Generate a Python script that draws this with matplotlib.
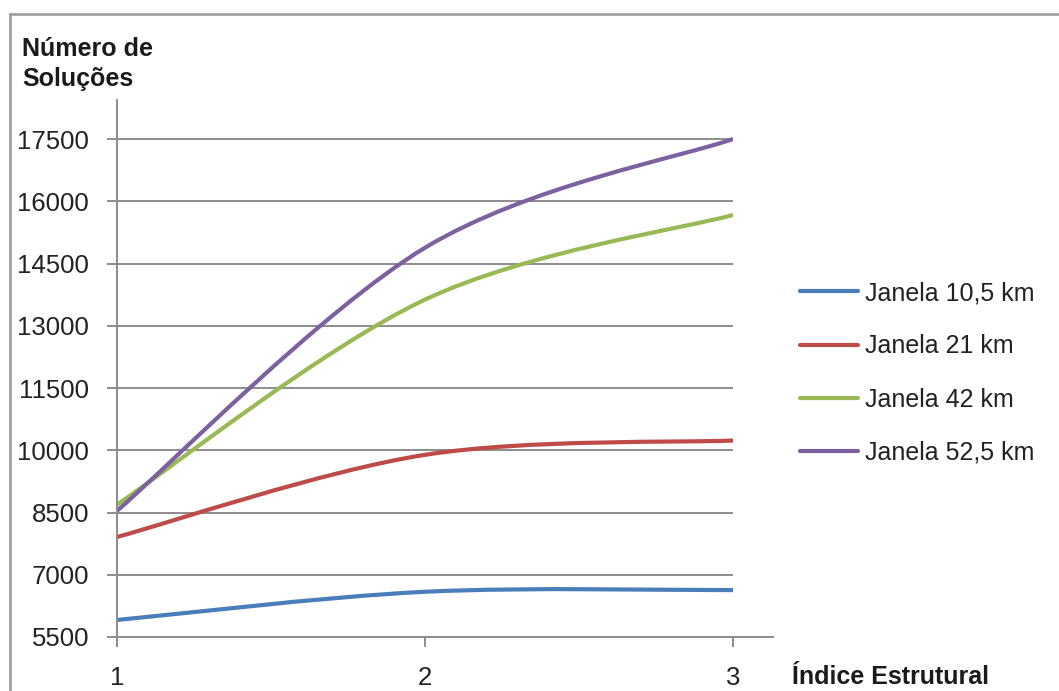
import numpy as np
import matplotlib
matplotlib.use('Agg')
import matplotlib.pyplot as plt
from matplotlib.path import Path
from matplotlib.patches import PathPatch
from matplotlib.lines import Line2D

plt.rcParams['font.family'] = ['Liberation Sans', 'DejaVu Sans']

# Data
indices = [1, 2, 3]
series_names = ['Janela 10,5 km', 'Janela 21 km', 'Janela 42 km', 'Janela 52,5 km']
janela_10_5 = [5910, 6590, 6630]
janela_21 = [7910, 9890, 10235]
janela_42 = [8690, 13630, 15670]
janela_52_5 = [8540, 14880, 17500]
y_ticks = [5500, 7000, 8500, 10000, 11500, 13000, 14500, 16000, 17500]

colors = ['#4A7EBB', '#BE4B48', '#98B954', '#7D60A0']
grid_color = '#8C8C8C'


def smooth_path(x, y):
    # Excel style smoothed line: cubic Bezier segments through the points
    pts = np.column_stack([x, y]).astype(float)
    n = len(pts)
    verts = [pts[0]]
    codes = [Path.MOVETO]
    for i in range(n - 1):
        p0 = pts[max(i - 1, 0)]
        p1 = pts[i]
        p2 = pts[i + 1]
        p3 = pts[min(i + 2, n - 1)]
        c1 = p1 + (p2 - p0) / 6
        c2 = p2 - (p3 - p1) / 6
        verts += [c1, c2, p2]
        codes += [Path.CURVE4] * 3
    return Path(verts, codes)


fig = plt.figure(figsize=(10.59, 6.91), dpi=100)
ax = fig.add_axes([117 / 1059, 1 - 637 / 691, (733 - 117) / 1059, (637 - 100) / 691])

all_series = [janela_10_5, janela_21, janela_42, janela_52_5]
handles = []
for vals, c, name in zip(all_series, colors, series_names):
    patch = PathPatch(smooth_path(indices, vals), fill=False, edgecolor=c,
                      lw=3.0, capstyle='butt', joinstyle='round')
    ax.add_patch(patch)
    handles.append(Line2D([], [], color=c, lw=3.0, solid_capstyle='round'))

ax.set_xlim(1, 3)
ax.set_ylim(5500, 18440)
ax.set_xticks(indices)
ax.set_yticks(y_ticks)
ax.set_yticklabels([str(v) for v in y_ticks])
ax.grid(axis='y', color=grid_color, lw=1.4)
ax.set_axisbelow(True)

for s in ['top', 'right']:
    ax.spines[s].set_visible(False)
ax.spines['left'].set_color(grid_color)
ax.spines['left'].set_linewidth(1.4)
ax.spines['bottom'].set_color(grid_color)
ax.spines['bottom'].set_linewidth(1.4)
ax.spines['bottom'].set_bounds(1, 3.13)

ax.tick_params(axis='y', direction='out', length=7, width=1.4, color=grid_color,
               pad=13, labelsize=18.5, labelcolor='#222222')
ax.tick_params(axis='x', direction='out', length=7, width=1.4, color=grid_color,
               pad=14, labelsize=18.5, labelcolor='#222222')

# titles
fig.text(22 / 1059, 1 - 37 / 691, 'Número de\nSoluções', fontsize=18, fontweight='bold',
         color='#1a1a1a', ha='left', va='top', linespacing=1.3)
fig.text(792 / 1059, 1 - 677 / 691, 'Índice Estrutural', fontsize=18, fontweight='bold',
         color='#1a1a1a', ha='left', va='center')

fig.legend(handles, series_names, loc='center left',
           bbox_to_anchor=(800 / 1059, 1 - 373 / 691), frameon=False,
           fontsize=18, handlelength=2.3, handletextpad=0.3, labelspacing=1.17,
           borderpad=0, borderaxespad=0, labelcolor='#222222')

# outer chart border (top and left edges visible)
fig.add_artist(Line2D([10 / 1059, 1], [1 - 14 / 691, 1 - 14 / 691], color='#A0A0A0', lw=2,
                      transform=fig.transFigure))
fig.add_artist(Line2D([10 / 1059, 10 / 1059], [0, 1 - 14 / 691], color='#A0A0A0', lw=2,
                      transform=fig.transFigure))

fig.savefig('out.png', dpi=100)
